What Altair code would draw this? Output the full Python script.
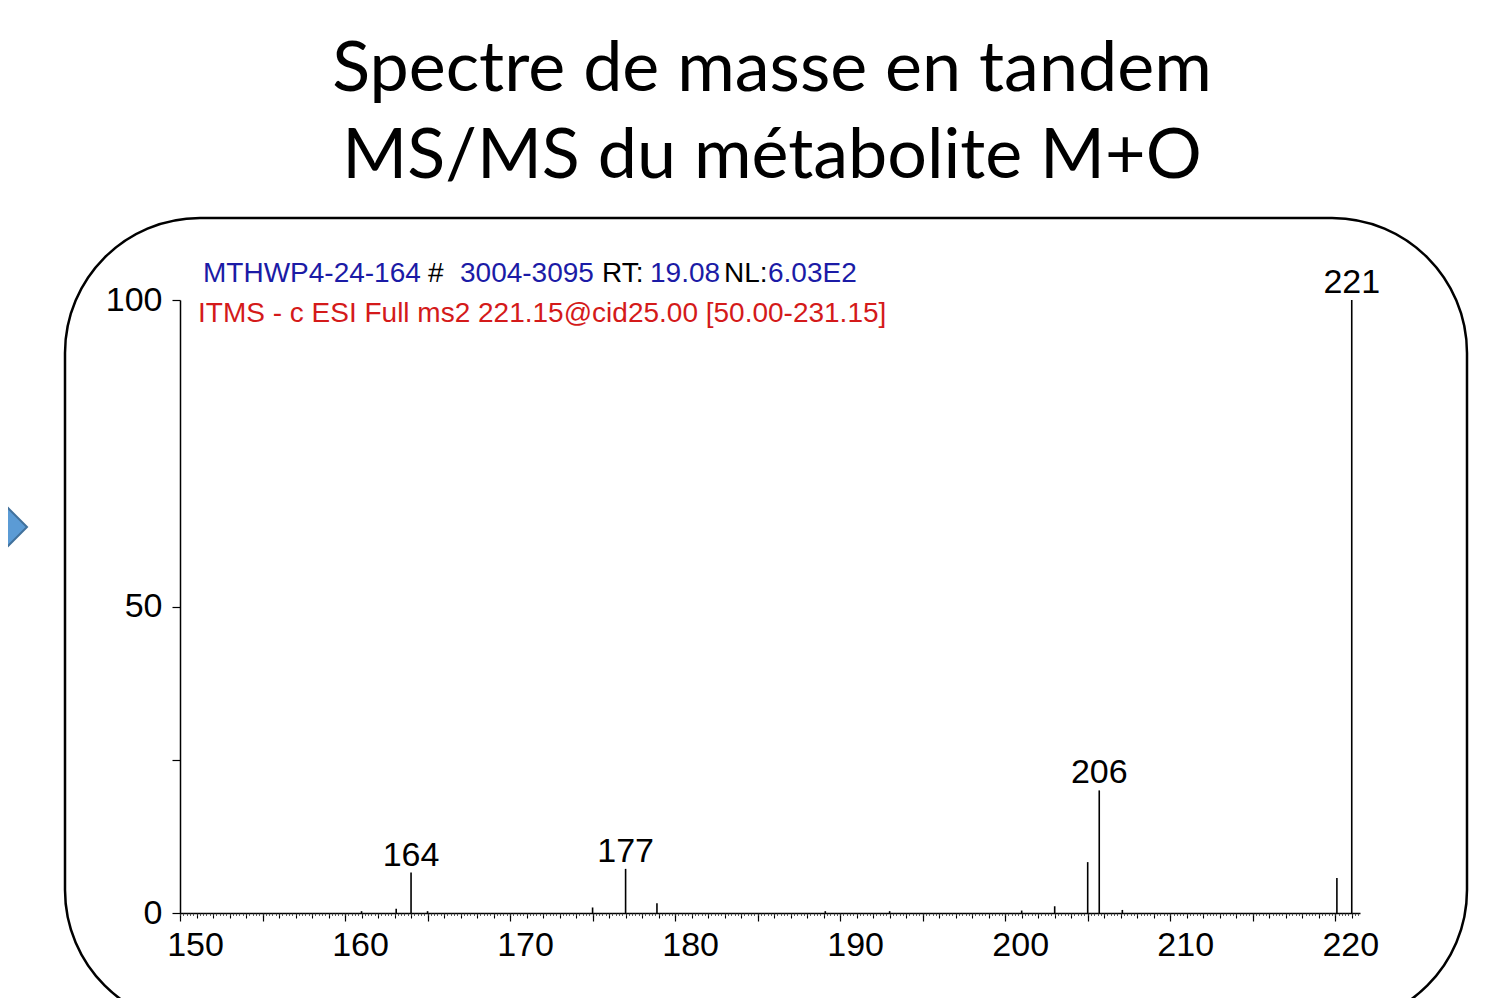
import altair as alt
import pandas as pd

# ---- data ----
mz = [161.0, 163.1, 164.0, 165.0, 175.0, 177.0, 178.9, 189.1, 193.0,
      201.0, 203.0, 205.0, 205.7, 207.1, 220.1, 221.0]
intensity = [0.3, 0.7, 6.6, 0.3, 0.9, 7.2, 1.6, 0.3, 0.3,
             0.4, 1.1, 8.3, 20.0, 0.5, 5.7, 100.0]

label_mz = [164.0, 177.0, 205.7, 221.0]
label_int = [6.6, 7.2, 20.0, 100.0]
label_txt = ["164", "177", "206", "221"]

x_major_ticks = list(range(150, 221, 5))
x_unit_ticks = list(range(150, 222))
x_minor_ticks = [round(150 + i * 0.2, 1) for i in range(358)]
y_ticks = [0, 25, 50, 100]

title_lines = ["Spectre de masse en tandem", "MS/MS du métabolite M+O"]
header_parts = ["MTHWP4-24-164", "#", "3004-3095", "RT:", "19.08", "NL:", "6.03E2"]
header_colors = ["#1b1ba6", "black", "#1b1ba6", "black", "#1b1ba6", "black", "#1b1ba6"]
red_header = "ITMS - c ESI Full ms2 221.15@cid25.00 [50.00-231.15]"

# ---- layout (pixels, relative to plot area) ----
header_x = [23, 248, 280, 422, 470, 544, 588]
title_y = [-209, -122]

df = pd.DataFrame({"mz": mz, "intensity": intensity})
lab = pd.DataFrame({"mz": label_mz, "intensity": label_int, "label": label_txt})
one = pd.DataFrame({"k": [0]})

xscale = alt.Scale(domain=[150, 221.5], nice=False, zero=False)
yscale = alt.Scale(domain=[0, 100], nice=False)

axis_common = dict(grid=False, title=None, domainColor="black", tickColor="black",
                   labelColor="black", labelFont="Liberation Sans", labelFontSize=34,
                   domainWidth=1.5, tickWidth=1.2)

x_axis_main = alt.Axis(values=x_major_ticks, tickSize=8, labelPadding=7, labelOffset=15,
                       labelExpr="datum.value % 10 == 0 ? datum.label : ''",
                       labelOverlap=False, labelFlush=False, orient="bottom", **axis_common)
y_axis = alt.Axis(values=y_ticks, tickSize=8, labelPadding=10,
                  labelExpr="datum.value == 25 ? '' : datum.label",
                  labelOverlap=False, labelFlush=False, **axis_common)

yenc = alt.Y("intensity:Q", scale=yscale, axis=y_axis)

frame = alt.Chart(one).mark_rect(cornerRadius=135, fill="white", fillOpacity=0,
                                 stroke="black", strokeWidth=2.5).encode(
    x=alt.value(-115), x2=alt.value(1287), y=alt.value(-82), y2=alt.value(725))

arrow = alt.Chart(one).mark_point(shape="M -1 -1 L 0 0 L -1 1 Z", size=3136, filled=True,
                                  fill="#5B9BD5", stroke="#41719C", strokeWidth=2,
                                  opacity=1).encode(x=alt.value(-153), y=alt.value(227))

peaks = alt.Chart(df).mark_rule(color="black", strokeWidth=1.6).encode(
    x=alt.X("mz:Q", scale=xscale, axis=x_axis_main),
    y=yenc,
    y2=alt.Y2Datum(0),
)

unit_ticks = alt.Chart(df).mark_rule(opacity=0).encode(
    x=alt.X("mz:Q", scale=xscale,
            axis=alt.Axis(values=x_unit_ticks, tickSize=5, labels=False, domain=False,
                          grid=False, title=None, orient="bottom", tickColor="black",
                          tickWidth=1.1)))
minor_ticks = alt.Chart(df).mark_rule(opacity=0).encode(
    x=alt.X("mz:Q", scale=xscale,
            axis=alt.Axis(values=x_minor_ticks, tickSize=2.5, labels=False, domain=False,
                          grid=False, title=None, orient="bottom", tickColor="#333",
                          tickWidth=0.8)))

labels = alt.Chart(lab).mark_text(font="Liberation Sans", fontSize=34, dy=-7,
                                  baseline="alphabetic", align="center", color="black").encode(
    x=alt.X("mz:Q", scale=xscale, axis=None),
    y=yenc,
    text="label:N",
)

layers = [frame, arrow, peaks, unit_ticks, minor_ticks, labels]

for line, ty in zip(title_lines, title_y):
    layers.append(alt.Chart(one).mark_text(text=line, font="Lato", fontSize=70,
                                           align="center", baseline="alphabetic",
                                           color="black").encode(
        x=alt.value(592), y=alt.value(ty)))

for part, col, hx in zip(header_parts, header_colors, header_x):
    layers.append(alt.Chart(one).mark_text(text=part, font="Liberation Sans", fontSize=28,
                                           align="left", baseline="alphabetic",
                                           color=col).encode(
        x=alt.value(hx), y=alt.value(-18)))

layers.append(alt.Chart(one).mark_text(text=red_header, font="Liberation Sans", fontSize=28,
                                       align="left", baseline="alphabetic",
                                       color="#d41a1a").encode(
    x=alt.value(18), y=alt.value(22)))

chart = alt.layer(*layers).resolve_axis(x="independent").properties(
    width=1180, height=613,
    padding={"left": 172, "top": 292, "right": 129, "bottom": 85},
    autosize=alt.AutoSizeParams(type="none"),
    background="white",
).configure_view(stroke=None)

chart.save("out.html", embed_options={"renderer": "svg", "actions": False})
